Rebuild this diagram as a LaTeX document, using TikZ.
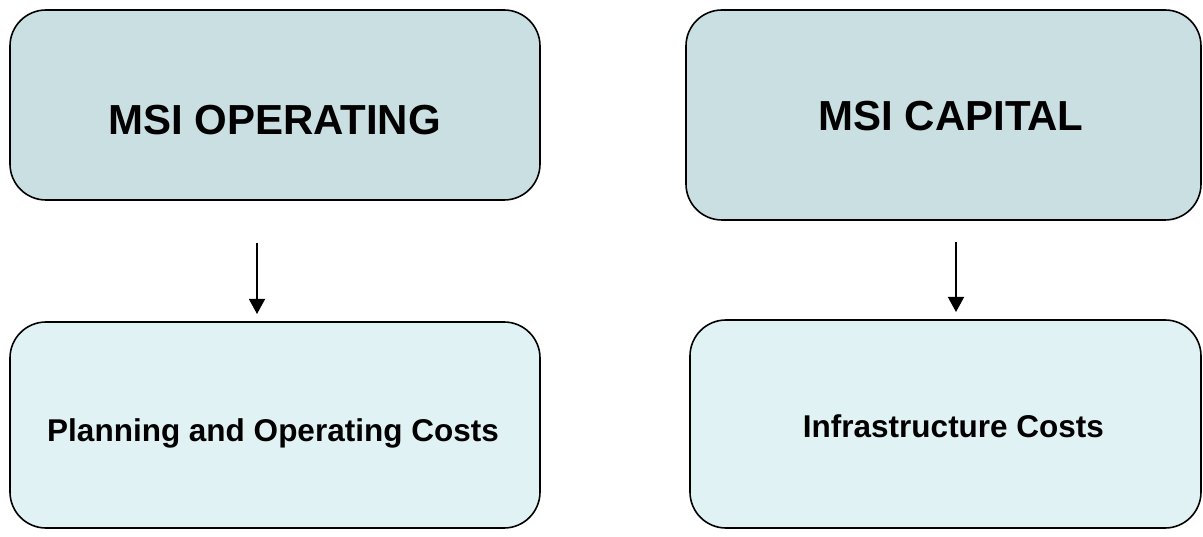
\documentclass[tikz,border=0pt]{standalone}
\usepackage{fontspec}
\setmainfont{Liberation Sans}
\usetikzlibrary{arrows.meta}
\definecolor{topfill}{HTML}{C9DFE1}
\definecolor{botfill}{HTML}{E1F2F4}
\begin{document}
\begin{tikzpicture}[x=1pt,y=-1pt,
  topbox/.style={draw=black, line width=1.6pt, fill=topfill, rounded corners=36pt},
  botbox/.style={draw=black, line width=1.6pt, fill=botfill, rounded corners=36pt},
  conn/.style={draw=black, line width=1.5pt, -{Triangle[length=15pt,width=16pt]}},
  big/.style={font=\fontsize{42}{48}\selectfont\bfseries, anchor=base, inner sep=0pt},
  small/.style={font=\fontsize{31.5}{36}\selectfont\bfseries, anchor=base, inner sep=0pt}]
\useasboundingbox (0,0) rectangle (1203,537);
\draw[topbox] (10,10) rectangle (540,200);
\draw[topbox] (686,10) rectangle (1201,220);
\draw[botbox] (10,322) rectangle (540,528);
\draw[botbox] (690,320) rectangle (1201,528);
\node[big] (t1) at (274.5,135) {MSI OPERATING};
\node[big] (t2) at (951,131) {MSI CAPITAL};
\node[small] (b1) at (273,442) {Planning and Operating Costs};
\node[small] (b2) at (953.5,437) {Infrastructure Costs};
\coordinate (a1s) at (257,243);
\coordinate (a1e) at (257,314);
\coordinate (a2s) at (956,242);
\coordinate (a2e) at (956,312);
\draw[conn] (a1s) -- (a1e);
\draw[conn] (a2s) -- (a2e);
\end{tikzpicture}
\end{document}
